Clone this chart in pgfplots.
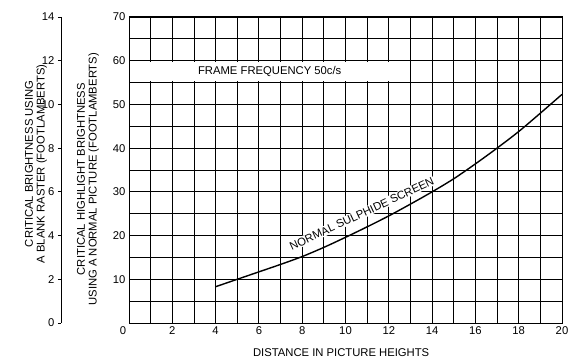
\documentclass[border=0pt]{standalone}
\usepackage{fontspec}
\setmainfont{Liberation Sans}
\usepackage{pgfplots}
\pgfplotsset{compat=1.18}
\newcommand{\fs}{\fontsize{11.3}{12}\selectfont}
\begin{document}
\begin{tikzpicture}
\useasboundingbox (-129bp,-39bp) rectangle (446bp,323bp);
% outer (left) axis
\begin{axis}[at={(-68bp,0)}, anchor=south west, scale only axis,
  width=1bp, height=306bp, ymin=0, ymax=14, xmin=0, xmax=1,
  hide x axis, axis y line*=left, ytick={0,2,...,14},
  tick align=outside, major tick length=3bp,
  axis line style={black, line width=0.9bp, -},
  tick style={black, line width=0.8bp},
  /pgf/number format/assume math mode=true,
  tick label style={font=\fs},
  ylabel={CRITICAL BRIGHTNESS USING\\A BLANK RASTER (FOOTLAMBERTS)},
  ylabel style={at={([xshift=-25bp]axis description cs:0,0.52)}, anchor=center, align=center, font=\fs},
]
\addplot[draw=none] coordinates {(0,0)};
\end{axis}
% main axis
\begin{axis}[at={(0,0)}, anchor=south west, scale only axis,
  width=433bp, height=306bp,
  xmin=0, xmax=20, ymin=0, ymax=70,
  xtick={0,2,...,20}, ytick={10,20,...,70},
  xticklabels={\hspace{-12bp}0,2,4,6,8,10,12,14,16,18,20},
  minor xtick={1,3,...,19}, minor ytick={5,15,...,65},
  grid=both,
  major grid style={black, line width=0.9bp},
  minor grid style={black, line width=0.9bp},
  major tick length=0pt, minor tick length=0pt,
  axis line style={black, line width=1bp},
  /pgf/number format/assume math mode=true,
  tick label style={font=\fs},
  xlabel={DISTANCE IN PICTURE HEIGHTS},
  xlabel style={at={(axis description cs:0.49,0)}, anchor=north, yshift=-22bp, font=\fs},
  ylabel={CRITICAL HIGHLIGHT BRIGHTNESS\\USING A NORMAL PICTURE (FOOTLAMBERTS)},
  ylabel style={at={([xshift=-41bp]axis description cs:0,0.47)}, anchor=center, align=center, font=\fs},
]
\fill[white] (axis cs:0.05,55.25) rectangle (axis cs:12.4,59.75);
\node[font=\fs] at (axis cs:6.5,57.5) {FRAME FREQUENCY 50c/s};
\addplot[black, line width=1.4bp, smooth] coordinates {
(4,8.3) (5,10) (6,11.7) (7,13.4) (8,15.2) (9,17.3) (10,19.6) (11,22) (12,24.5)
(13,27.2) (14,30) (15,33) (16,36.4) (17,40) (18,43.8) (19,48) (20,52.3)};
\node[font=\fs, fill=white, inner sep=1pt, rotate=25] at (axis cs:10.75,25.0) {NORMAL SULPHIDE SCREEN};
\end{axis}
\end{tikzpicture}
\end{document}
